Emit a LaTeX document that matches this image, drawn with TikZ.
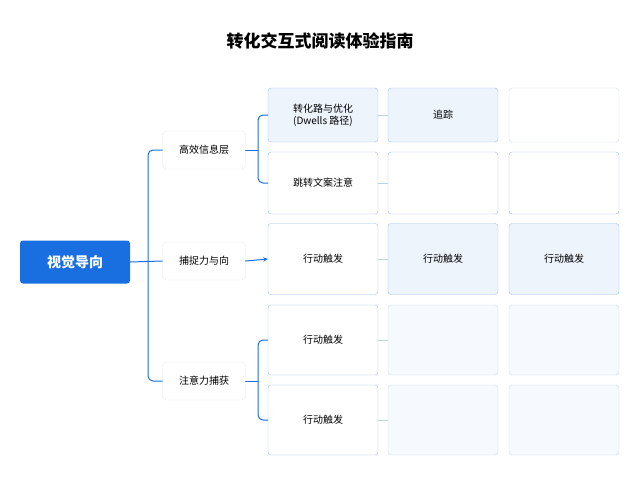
\documentclass[tikz,border=0pt]{standalone}
\usepackage{fontspec}
\setmainfont{Noto Sans CJK SC}
\usetikzlibrary{positioning}
\definecolor{mainblue}{HTML}{1A6FE0}
\definecolor{cellline}{HTML}{9DBEEA}
\definecolor{cellfill}{HTML}{EEF4FC}
\definecolor{palefill}{HTML}{F6F9FD}
\tikzset{
  root/.style={draw=none, fill=mainblue, rounded corners=3pt, minimum width=110pt, minimum height=43pt, text=white, font=\bfseries\fontsize{14}{16}\selectfont},
  branch/.style={draw=black!8, fill=white, rounded corners=4pt, minimum width=83pt, minimum height=38pt, font=\fontsize{10}{12}\selectfont},
  cell/.style={draw=cellline, fill=white, rounded corners=3pt, minimum width=110pt, font=\fontsize{10}{12}\selectfont, align=center},
  blue cell/.style={cell, fill=cellfill},
  pale cell/.style={cell, fill=palefill, draw=cellline!55},
  link/.style={mainblue, line width=1pt, rounded corners=5pt},
  thin/.style={cellline!70, line width=0.6pt},
}
\begin{document}
\begin{tikzpicture}[x=1pt, y=-1pt, >=stealth, line join=round, line cap=round]
  \useasboundingbox (0,0) rectangle (640,480);
  \node[font=\bfseries\fontsize{17}{20}\selectfont] (title) at (320,41) {转化交互式阅读体验指南};
  % root and branches
  \node[root] (root) at (75,262) {视觉导向};
  \node[branch] (b1) at (204,150) {高效信息层};
  \node[branch] (b2) at (204,261) {捕捉力与向};
  \node[branch] (b3) at (204,381) {注意力捕获};
  % cells
  \node[blue cell, minimum height=54pt] (c11) at (323,115) {转化路与优化\\(Dwells 路径)};
  \node[blue cell, minimum height=54pt] (c12) at (443,115) {追踪};
  \node[cell, draw=cellline!55, minimum height=54pt] (c13) at (564,115) {};
  \node[cell, minimum height=62pt] (c21) at (323,183) {跳转文案注意};
  \node[cell, minimum height=62pt] (c22) at (443,183) {};
  \node[cell, minimum height=62pt] (c23) at (564,183) {};
  \node[cell, minimum height=71pt] (c31) at (323,259) {行动触发};
  \node[blue cell, minimum height=71pt] (c32) at (443,259) {行动触发};
  \node[blue cell, minimum height=71pt] (c33) at (564,259) {行动触发};
  \node[cell, minimum height=70pt] (c41) at (323,340) {行动触发};
  \node[pale cell, minimum height=70pt] (c42) at (443,340) {};
  \node[pale cell, minimum height=70pt] (c43) at (564,340) {};
  \node[cell, minimum height=70pt] (c51) at (323,420) {行动触发};
  \node[pale cell, minimum height=70pt] (c52) at (443,420) {};
  \node[pale cell, minimum height=70pt] (c53) at (564,420) {};
  % connectors
  \draw[link] (root.east) -- (b2.west);
  \draw[link] (b1.west) -- (148,150) -- (148,381) -- (b3.west);
  \draw[link] (c11.west) -- (258,115) -- (258,183) -- (c21.west);
  \draw[link] (b1.east) -- (258,150);
  \draw[link,->] (b2.east) -- (c31.west);
  \draw[link] (c41.west) -- (258,340) -- (258,420) -- (c51.west);
  \draw[link] (b3.east) -- (258,381);
  \foreach \r in {1,...,5}{
    \draw[thin] (c\r1.east) -- (c\r2.west);
  }
\end{tikzpicture}
\end{document}
